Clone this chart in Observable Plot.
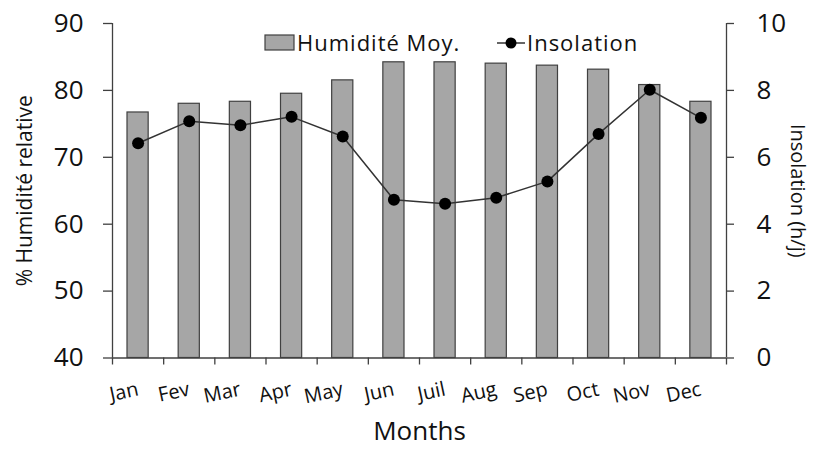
<!DOCTYPE html>
<html>
<head>
<meta charset="utf-8">
<script src="https://cdn.jsdelivr.net/npm/d3@7"></script>
<script src="https://cdn.jsdelivr.net/npm/@observablehq/plot@0.6"></script>
<style>
  html, body { margin: 0; padding: 0; background: #fff; }
  svg { display: block; }
</style>
</head>
<body>
<div id="chart"></div>
<script>
const months = ["Jan","Fev","Mar","Apr","May","Jun","Juil","Aug","Sep","Oct","Nov","Dec"];
const humidity = [76.7, 78.0, 78.3, 79.5, 81.5, 84.2, 84.2, 84.0, 83.7, 83.1, 80.8, 78.3];
const insolation = [6.42, 7.08, 6.96, 7.21, 6.62, 4.73, 4.61, 4.79, 5.28, 6.70, 8.02, 7.18];
const humTicks = [40, 50, 60, 70, 80, 90];
const insTicks = [0, 2, 4, 6, 8, 10];

// insolation (0..10) mapped onto the humidity scale (40..90)
const insToHum = v => 40 + v * 5;
const humToIns = v => (v - 40) / 5;

const data = months.map((m, i) => ({month: m, i, hum: humidity[i], ins: insolation[i], insY: insToHum(insolation[i])}));

const axisColor = "#404040";
const font = "Open Sans";

const chart = Plot.plot({
  width: 813,
  height: 456,
  marginLeft: 112,
  marginRight: 87,
  marginTop: 23,
  marginBottom: 98.5,
  x: {domain: [0, 12], axis: null},
  y: {domain: [40, 90], axis: null},
  style: {fontFamily: font, color: "#111", background: "#fff", overflow: "visible"},
  marks: [
    Plot.rectY(data, {x1: d => d.i, x2: d => d.i + 1, y1: 40, y2: "hum", insetLeft: 15, insetRight: 15, fill: "#a6a6a6", stroke: axisColor, strokeWidth: 1.2}),
    Plot.ruleX([0, 12], {stroke: axisColor, strokeWidth: 1.3}),
    Plot.ruleY([40], {stroke: axisColor, strokeWidth: 1.3}),
    Plot.axisY(humTicks, {anchor: "left", tickSize: 9, tickPadding: 20, fontSize: 26, stroke: axisColor, strokeWidth: 1.3, label: null, tickFormat: d => d}),
    Plot.axisY(insTicks.map(insToHum), {anchor: "right", tickSize: 7, tickPadding: 23, fontSize: 26, stroke: axisColor, strokeWidth: 1.3, label: null, tickFormat: d => humToIns(d)}),
    Plot.axisX(d3.range(13), {anchor: "bottom", tickSize: 7, stroke: axisColor, strokeWidth: 1.3, tickFormat: () => "", label: null}),
    Plot.text(data, {x: d => d.i + 0.5, y: 40, text: "month", dy: 31, rotate: -12, textAnchor: "end", fontSize: 20, fill: "#111"}),
    Plot.line(data, {x: d => d.i + 0.5, y: "insY", stroke: "#333", strokeWidth: 1.5}),
    Plot.dot(data, {x: d => d.i + 0.5, y: "insY", r: 6, fill: "#000", stroke: "none"}),
    Plot.text(["% Humidité relative"], {frameAnchor: "left", dx: -87, rotate: -90, textAnchor: "middle", fontSize: 21, letterSpacing: 0.6, fill: "#111"}),
    Plot.text(["Insolation (h/j)"], {frameAnchor: "right", dx: 71, rotate: 90, textAnchor: "middle", fontSize: 20, letterSpacing: 1, fill: "#111"}),
    Plot.text(["Months"], {frameAnchor: "bottom", dy: 82, textAnchor: "middle", fontSize: 26, letterSpacing: 1, fill: "#111"})
  ]
});

// Legend inside the plot area
const svg = d3.select(chart);
const lg = svg.append("g").attr("font-family", font).attr("font-size", 22).attr("letter-spacing", 1).attr("fill", "#111").attr("text-anchor", "start");
lg.append("rect").attr("x", 265).attr("y", 35).attr("width", 29).attr("height", 15)
  .attr("fill", "#a6a6a6").attr("stroke", axisColor).attr("stroke-width", 1.2);
lg.append("text").attr("x", 297).attr("y", 51).text("Humidité Moy.");
lg.append("line").attr("x1", 497).attr("x2", 525).attr("y1", 43).attr("y2", 43)
  .attr("stroke", "#333").attr("stroke-width", 1.5);
lg.append("circle").attr("cx", 511).attr("cy", 43).attr("r", 5.5).attr("fill", "#000");
lg.append("text").attr("x", 527).attr("y", 51).text("Insolation");

document.getElementById("chart").appendChild(chart);
</script>
</body>
</html>
